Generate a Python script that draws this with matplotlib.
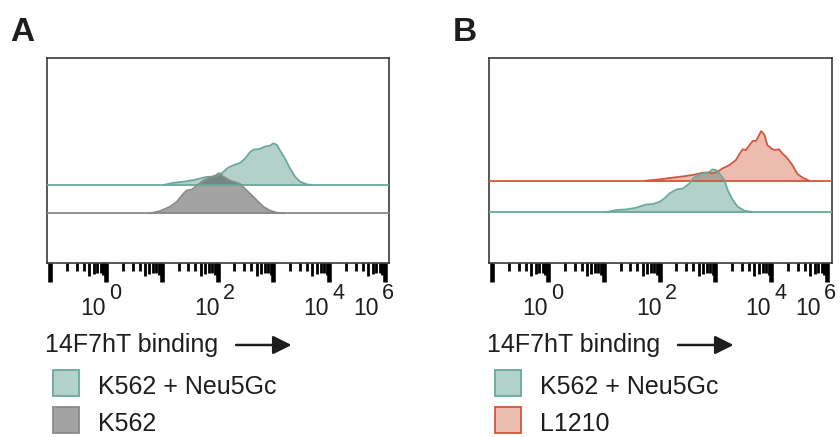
import numpy as np
import matplotlib
matplotlib.use("Agg")
import matplotlib.pyplot as plt
from matplotlib.patches import Rectangle, FancyArrowPatch
from matplotlib.transforms import blended_transform_factory, ScaledTranslation

plt.rcParams['font.family'] = ['Liberation Sans', 'DejaVu Sans']

# ---------------- data (x in decades of log10 fluorescence, y = relative counts) -------------
# Panel A: K562 + Neu5Gc (teal) and K562 (gray)
a_teal_x = [2.03, 2.21, 2.39, 2.57, 2.69, 2.81, 2.93, 3.07, 3.19, 3.28, 3.40, 3.49, 3.58,
            3.64, 3.76, 3.85, 3.94, 4.00, 4.06, 4.12, 4.21, 4.30, 4.39, 4.48, 4.60, 4.69]
a_teal_y = [0.0, 1.1, 1.6, 2.4, 3.2, 4.0, 4.0, 5.6, 8.5, 9.6, 10.7, 12.8, 16.0,
            17.2, 17.6, 18.8, 19.2, 20.3, 19.6, 16.8, 12.8, 8.0, 4.0, 1.6, 0.3, 0.0]
a_gray_x = [1.79, 1.97, 2.15, 2.27, 2.39, 2.45, 2.54, 2.63, 2.75, 2.87, 2.96, 3.03, 3.10,
            3.22, 3.40, 3.46, 3.58, 3.70, 3.82, 3.94, 4.06, 4.18]
a_gray_y = [0.0, 1.1, 3.2, 5.6, 9.6, 11.2, 11.5, 13.6, 16.0, 17.6, 18.4, 19.6, 17.9,
            16.0, 14.4, 12.8, 9.6, 6.4, 3.2, 1.3, 0.3, 0.0]
a_teal_offset = 38.2
a_gray_offset = 24.4

# Panel B: L1210 (red) and K562 + Neu5Gc (teal)
b_red_x = [2.76, 3.00, 3.24, 3.48, 3.66, 3.77, 3.89, 3.95, 4.04, 4.13, 4.25, 4.37, 4.43,
           4.49, 4.55, 4.61, 4.67, 4.73, 4.82, 4.88, 4.93, 5.02, 5.08, 5.14, 5.20, 5.29,
           5.38, 5.47, 5.56, 5.68]
b_red_y = [0.0, 0.65, 1.5, 2.3, 3.1, 3.9, 3.9, 3.6, 4.4, 6.0, 7.6, 10.1, 13.0,
           15.3, 15.0, 17.4, 19.4, 19.4, 24.2, 22.3, 17.4, 15.3, 15.0, 15.3, 13.3, 10.9,
           7.6, 3.3, 1.5, 0.0]
b_teal_x = [2.05, 2.23, 2.41, 2.58, 2.76, 2.88, 3.00, 3.09, 3.18, 3.30, 3.42, 3.54, 3.60,
            3.69, 3.77, 3.89, 3.95, 4.01, 4.07, 4.16, 4.22, 4.31, 4.40, 4.52, 4.67]
b_teal_y = [0.0, 1.0, 1.3, 2.1, 3.7, 3.9, 5.0, 6.7, 9.1, 11.0, 11.5, 14.0, 16.4,
            18.0, 18.9, 19.5, 20.8, 20.5, 18.9, 15.6, 10.7, 5.9, 2.6, 0.65, 0.0]
b_red_offset = 40.3
b_teal_offset = 25.0

decades = [0, 1, 2, 3, 4, 5, 6]
label_positions = [1, 3, 5, 6]
label_exponents = ['0', '2', '4', '6']
x_label = '14F7hT binding'
panel_letters = ['A', 'B']
legend_A = ['K562 + Neu5Gc', 'K562']
legend_B = ['K562 + Neu5Gc', 'L1210']

# ---------------- style ----------------
TEAL = dict(fill=(45/255, 130/255, 110/255), alpha=0.36, edge='#6aa99b',
            patch_face='#b2d2ca', patch_edge='#6aa99b')
GRAY = dict(fill=(0.10, 0.10, 0.10), alpha=0.40, edge='#8a8a8a',
            patch_face='#a3a3a3', patch_edge='#8a8a8a')
RED = dict(fill=(205/255, 70/255, 40/255), alpha=0.36, edge='#d0573a',
           patch_face='#e9bdb0', patch_edge='#d0573a')
TXT = '#1e1e1e'
LABEL_NUDGE_PX = [-1, 1, -1, -7]

W, H = 840, 437
fig = plt.figure(figsize=(W / 100, H / 100), dpi=100)


def fx(px):
    return px / W


def fy(py):
    return 1 - py / H


def make_axes(left_px):
    ax = fig.add_axes([fx(left_px), fy(263.3), 342.2 / W, (263.3 - 58.3) / H])
    ax.set_xlim(-0.05, 6.08)
    ax.set_ylim(0, 100)
    ax.set_yticks([])
    for s in ax.spines.values():
        s.set_linewidth(1.1)
        s.set_color('#2a2a2a')
    ax.set_xticks(decades)
    minor = [d + np.log10(m) for d in decades[:-1] for m in range(2, 10)]
    ax.set_xticks(minor, minor=True)
    ax.tick_params(which='major', direction='out', length=14, width=3.3,
                   color='black', labelbottom=False)
    ax.tick_params(which='minor', direction='out', length=5, width=2.0,
                   color='black', labelbottom=False)
    minor_len = {2: 5.5, 3: 5.5, 4: 6.0, 5: 9.5, 6: 8.0, 7: 7.0, 8: 7.5, 9: 8.5}
    mlist = [m for d in decades[:-1] for m in range(2, 10)]
    for t, m in zip(ax.xaxis.get_minor_ticks(), mlist):
        t.tick1line.set_markersize(minor_len[m])
    # tick labels as "10" with raised exponent
    tr = blended_transform_factory(ax.transData, ax.transAxes)
    for p, e, nd in zip(label_positions, label_exponents, LABEL_NUDGE_PX):
        ax.text(p, -0.252, '10',
                transform=tr + ScaledTranslation((1 + nd) / 100, 0, fig.dpi_scale_trans),
                ha='right', va='baseline', fontsize=16.5, color=TXT)
        ax.text(p, -0.176, e,
                transform=tr + ScaledTranslation((4 + nd) / 100, 0, fig.dpi_scale_trans),
                ha='left', va='baseline', fontsize=15.5, color=TXT)
    return ax


def draw_hist(ax, x, y, offset, st):
    x = np.asarray(x)
    y = np.asarray(y)
    ax.fill_between(x, offset, offset + y, color=st['fill'], alpha=st['alpha'], lw=0, zorder=2)
    ax.axhline(offset, color=st['edge'], lw=1.3, zorder=3)
    ax.plot(x, offset + y, color=st['edge'], lw=1.3, zorder=3, solid_joinstyle='round')


axA = make_axes(47.3)
draw_hist(axA, a_teal_x, a_teal_y, a_teal_offset, TEAL)
draw_hist(axA, a_gray_x, a_gray_y, a_gray_offset, GRAY)

axB = make_axes(489.3)
draw_hist(axB, b_red_x, b_red_y, b_red_offset, RED)
draw_hist(axB, b_teal_x, b_teal_y, b_teal_offset, TEAL)

# panel texts, arrows, legends
for left, letter, labels, styles in [(47.3, panel_letters[0], legend_A, [TEAL, GRAY]),
                                     (489.3, panel_letters[1], legend_B, [TEAL, RED])]:
    fig.text(fx(left - 37), fy(41), letter, fontsize=24, fontweight='bold',
             ha='left', va='baseline', color=TXT)
    fig.text(fx(left - 2), fy(352), x_label, fontsize=18, ha='left', va='baseline', color=TXT)
    fig.add_artist(FancyArrowPatch(
        (fx(left + 186), fy(345)), (fx(left + 247), fy(345)), transform=fig.transFigure,
        arrowstyle='-|>', mutation_scale=28, lw=1.8, color=TXT))
    for i, (lab, st) in enumerate(zip(labels, styles)):
        top = 370 + 37 * i
        fig.add_artist(Rectangle((fx(left + 6), fy(top + 26)), 26 / W, 26 / H,
                                 transform=fig.transFigure, facecolor=st['patch_face'],
                                 edgecolor=st['patch_edge'], lw=1.3))
        fig.text(fx(left + 51), fy(top + 24), lab, fontsize=18, ha='left', va='baseline', color=TXT)

fig.savefig('out.png', dpi=100)
